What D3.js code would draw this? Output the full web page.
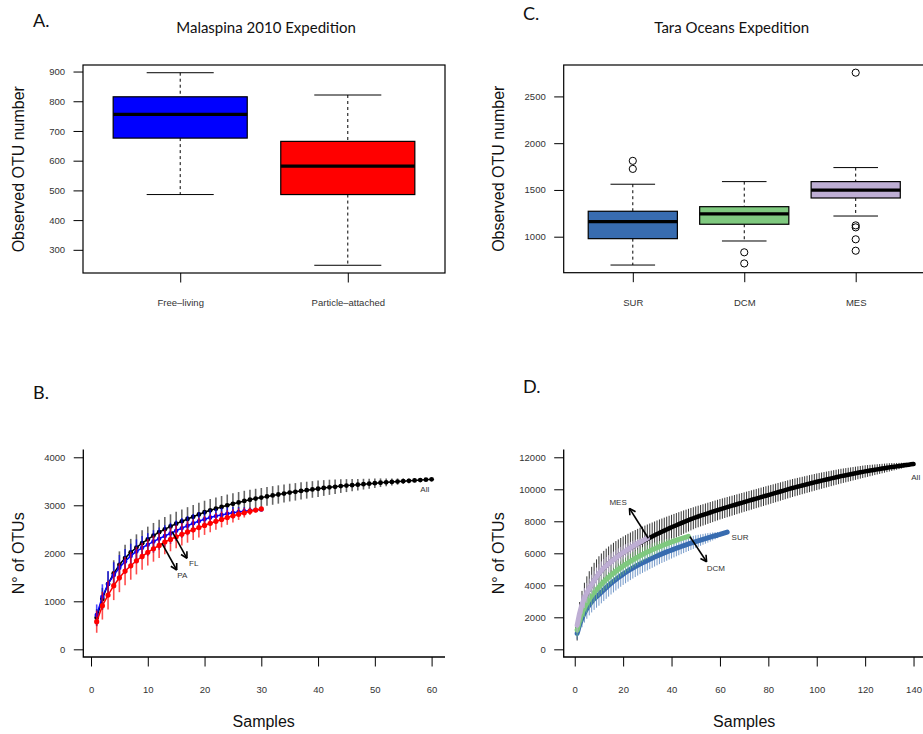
<!DOCTYPE html>
<html>
<head>
<meta charset="utf-8">
<script src="https://cdn.jsdelivr.net/npm/d3@7"></script>
<style>
body { margin: 0; background: #fff; }
svg { display: block; font-family: "Liberation Sans", Arial, sans-serif; }
.tick text { fill: #333; font-size: 9.5px; font-family: "Liberation Sans", Arial, sans-serif; }
.title { font-family: Lato, "Open Sans", sans-serif; font-size: 15px; fill: #111; }
.letter { font-family: Lato, "Open Sans", sans-serif; font-size: 18px; fill: #111; }
.axis-title { font-size: 16px; fill: #111; }
.note { font-size: 8px; fill: #333; }
</style>
</head>
<body>
<div id="chart"></div>
<script>
// A. Malaspina boxplot (whisker low, Q1, median, Q3, whisker high)
const malaspinaGroups = ["Free\u2013living", "Particle\u2013attached"];
const malaspinaLow = [486, 248];
const malaspinaQ1 = [676, 486];
const malaspinaMedian = [756, 582];
const malaspinaQ3 = [815, 665];
const malaspinaHigh = [896, 821];
const malaspinaTicks = [300, 400, 500, 600, 700, 800, 900];

// C. Tara boxplot
const taraGroups = ["SUR", "DCM", "MES"];
const taraLow = [697, 954, 1221];
const taraQ1 = [979, 1133, 1414];
const taraMedian = [1161, 1243, 1497];
const taraQ3 = [1272, 1321, 1589];
const taraHigh = [1561, 1589, 1739];
const taraOutliers = [[1811, 1725], [833, 714], [2754, 1121, 1100, 972, 850]];
const taraTicks = [1000, 1500, 2000, 2500];

// B. Malaspina rarefaction (mean and sd by number of samples)
const malAllMean = [660, 1050, 1360, 1580, 1760, 1900, 2020, 2120, 2210, 2290,
  2370, 2440, 2500, 2560, 2615, 2665, 2715, 2760, 2810, 2855,
  2895, 2930, 2965, 3000, 3030, 3060, 3090, 3115, 3140, 3160,
  3185, 3205, 3225, 3245, 3265, 3280, 3300, 3315, 3330, 3345,
  3360, 3375, 3385, 3400, 3410, 3420, 3430, 3440, 3450, 3460,
  3470, 3478, 3486, 3494, 3502, 3510, 3518, 3526, 3534, 3540];
const malAllSd = [180, 230, 260, 275, 280, 280, 280, 275, 270, 265,
  262, 258, 255, 252, 250, 248, 246, 244, 242, 240,
  236, 232, 228, 224, 220, 216, 212, 208, 204, 200,
  197, 194, 191, 188, 185, 182, 179, 176, 173, 170,
  164, 158, 150, 143, 135, 127, 120, 112, 105, 98,
  90, 82, 74, 66, 58, 50, 40, 30, 18, 0];
const malFlMean = [715, 1095, 1360, 1545, 1700, 1830, 1945, 2040, 2115, 2180,
  2245, 2305, 2360, 2415, 2470, 2525, 2575, 2625, 2670, 2710,
  2745, 2775, 2800, 2825, 2845, 2862, 2877, 2890, 2900, 2910];
const malFlSd = [220, 260, 270, 270, 265, 260, 255, 250, 245, 240,
  235, 230, 225, 220, 215, 208, 200, 192, 184, 175,
  165, 155, 145, 132, 118, 102, 85, 65, 40, 0];
const malPaMean = [575, 910, 1130, 1325, 1490, 1630, 1740, 1845, 1935, 2020,
  2095, 2165, 2235, 2290, 2345, 2395, 2445, 2490, 2535, 2580,
  2625, 2665, 2705, 2745, 2780, 2815, 2845, 2875, 2900, 2925];
const malPaSd = [230, 290, 300, 300, 300, 295, 290, 285, 280, 275,
  270, 262, 255, 248, 240, 232, 224, 215, 206, 197,
  187, 177, 165, 152, 138, 120, 100, 75, 45, 0];
const malXTicks = [0, 10, 20, 30, 40, 50, 60];
const malYTicks = [0, 1000, 2000, 3000, 4000];

// D. Tara rarefaction
const taraAllMean = [1250, 2050, 2650, 3100, 3470, 3780, 4050, 4300, 4520, 4720,
  4900, 5070, 5220, 5360, 5490, 5610, 5725, 5835, 5940, 6040,
  6135, 6230, 6320, 6410, 6495, 6580, 6660, 6740, 6820, 6900,
  6975, 7050, 7125, 7200, 7275, 7345, 7415, 7485, 7555, 7625,
  7690, 7755, 7820, 7885, 7950, 8010, 8070, 8130, 8190, 8250,
  8300, 8350, 8400, 8450, 8500, 8550, 8600, 8650, 8700, 8750,
  8795, 8840, 8885, 8930, 8975, 9020, 9065, 9110, 9155, 9200,
  9244, 9288, 9332, 9376, 9420, 9464, 9508, 9552, 9596, 9640,
  9684, 9728, 9772, 9816, 9860, 9904, 9948, 9992, 10036, 10080,
  10119, 10158, 10197, 10236, 10275, 10314, 10353, 10392, 10431, 10470,
  10505, 10540, 10575, 10610, 10645, 10680, 10715, 10750, 10785, 10820,
  10850, 10880, 10910, 10940, 10970, 11000, 11030, 11060, 11090, 11120,
  11145, 11170, 11195, 11220, 11245, 11270, 11295, 11320, 11345, 11370,
  11391, 11412, 11433, 11454, 11475, 11496, 11517, 11538, 11559, 11580];
const taraAllSd = [700, 900, 1000, 1060, 1090, 1100, 1105, 1105, 1100, 1095,
  1088, 1080, 1072, 1064, 1055, 1046, 1037, 1028, 1018, 1008,
  998, 988, 978, 968, 957, 946, 935, 924, 912, 900,
  888, 876, 864, 852, 840, 828, 816, 804, 792, 780,
  770, 760, 750, 740, 730, 720, 710, 700, 690, 680,
  676, 672, 668, 664, 660, 656, 652, 648, 644, 640,
  637, 634, 631, 628, 625, 622, 619, 616, 613, 610,
  608, 606, 604, 602, 600, 598, 596, 594, 592, 590,
  587, 584, 581, 578, 575, 572, 569, 566, 563, 560,
  556, 552, 548, 544, 540, 536, 532, 528, 524, 520,
  514, 508, 502, 496, 490, 484, 478, 472, 466, 460,
  452, 444, 436, 428, 420, 412, 404, 396, 388, 380,
  368, 356, 344, 332, 320, 308, 296, 284, 272, 260,
  244, 228, 212, 196, 180, 160, 135, 100, 60, 0];
const taraSurMean = [1000, 1550, 1950, 2280, 2550, 2780, 2980, 3150, 3290, 3420,
  3570, 3715, 3855, 3990, 4120, 4245, 4365, 4480, 4590, 4700,
  4800, 4895, 4990, 5080, 5170, 5255, 5335, 5410, 5480, 5550,
  5625, 5695, 5765, 5835, 5900, 5965, 6025, 6085, 6145, 6200,
  6258, 6315, 6370, 6425, 6478, 6530, 6582, 6632, 6682, 6730,
  6778, 6825, 6872, 6918, 6963, 7008, 7052, 7095, 7138, 7180,
  7230, 7280, 7330];
const taraSurSd = [380, 500, 570, 610, 640, 660, 675, 685, 690, 695,
  697, 698, 698, 697, 695, 692, 689, 686, 682, 678,
  674, 669, 664, 659, 653, 647, 641, 634, 627, 620,
  612, 604, 596, 587, 578, 569, 559, 549, 538, 527,
  516, 504, 492, 479, 466, 452, 438, 423, 408, 392,
  375, 357, 338, 318, 297, 274, 249, 222, 192, 157,
  115, 65, 0];
const taraDcmMean = [1200, 1800, 2250, 2600, 2880, 3130, 3350, 3550, 3730, 3900,
  4065, 4220, 4365, 4500, 4630, 4755, 4875, 4990, 5100, 5205,
  5305, 5400, 5495, 5585, 5675, 5760, 5845, 5925, 6005, 6080,
  6150, 6220, 6285, 6350, 6415, 6475, 6535, 6595, 6650, 6705,
  6760, 6815, 6865, 6915, 6965, 7010, 7055];
const taraDcmSd = [400, 500, 560, 590, 605, 610, 610, 608, 605, 600,
  595, 590, 584, 578, 572, 565, 558, 550, 542, 534,
  525, 516, 507, 497, 487, 476, 465, 453, 441, 428,
  414, 400, 385, 369, 352, 334, 315, 295, 273, 250,
  225, 198, 168, 135, 98, 55, 0];
const taraMesMean = [1500, 2250, 2800, 3200, 3520, 3800, 4050, 4290, 4520, 4740,
  4920, 5080, 5220, 5350, 5475, 5600, 5720, 5835, 5945, 6050,
  6150, 6248, 6343, 6435, 6525, 6612, 6697, 6780, 6860, 6935];
const taraMesSd = [450, 550, 600, 620, 620, 615, 610, 600, 590, 580,
  570, 560, 548, 535, 520, 505, 490, 472, 455, 435,
  415, 392, 368, 342, 312, 280, 240, 190, 120, 0];
const taraXTicks = [0, 20, 40, 60, 80, 100, 120, 140];
const taraYTicks = [0, 2000, 4000, 6000, 8000, 10000, 12000];

const svg = d3.select("#chart").append("svg")
  .attr("width", 923)
  .attr("height", 734);
svg.append("rect").attr("width", 923).attr("height", 734).attr("fill", "#fff");

const plain = d3.format("d");

function arrow(g, x1, y1, x2, y2) {
  g.append("line").attr("x1", x1).attr("y1", y1).attr("x2", x2).attr("y2", y2)
    .attr("stroke", "#000").attr("stroke-width", 1.6);
  var ang = Math.atan2(y2 - y1, x2 - x1);
  [-0.5, 0.5].forEach(function (da) {
    var a = ang + Math.PI + da;
    g.append("line").attr("x1", x2).attr("y1", y2)
      .attr("x2", x2 + 7 * Math.cos(a)).attr("y2", y2 + 7 * Math.sin(a))
      .attr("stroke", "#000").attr("stroke-width", 1.6);
  });
}

function boxPanel(opt) {
  const g = svg.append("g");
  const x = opt.x, y = opt.y;
  const [x0, x1] = x.range();
  const [yb, yt] = y.range();

  // y axis
  g.append("g")
    .attr("transform", `translate(${x0},0)`)
    .call(d3.axisLeft(y).tickValues(opt.ticks).tickFormat(plain).tickSize(9.5).tickPadding(8.5))
    .call(s => s.select(".domain").remove());
  // x axis
  g.append("g")
    .attr("transform", `translate(0,${yb})`)
    .call(d3.axisBottom(x).tickValues(opt.groups.map((d, i) => i + 1))
      .tickFormat((d, i) => opt.groups[i]).tickSize(9.5).tickPadding(16.8))
    .call(s => s.select(".domain").remove());

  const bw = (x(2) - x(1)) * 0.8;
  opt.groups.forEach(function (name, i) {
    const cx = x(i + 1);
    g.append("line").attr("x1", cx).attr("x2", cx)
      .attr("y1", y(opt.high[i])).attr("y2", y(opt.q3[i]))
      .attr("stroke", "#000").attr("stroke-dasharray", "3,3");
    g.append("line").attr("x1", cx).attr("x2", cx)
      .attr("y1", y(opt.q1[i])).attr("y2", y(opt.low[i]))
      .attr("stroke", "#000").attr("stroke-dasharray", "3,3");
    [opt.high[i], opt.low[i]].forEach(function (v) {
      g.append("line").attr("x1", cx - bw / 4).attr("x2", cx + bw / 4)
        .attr("y1", y(v)).attr("y2", y(v)).attr("stroke", "#000");
    });
    g.append("rect")
      .attr("x", cx - bw / 2).attr("width", bw)
      .attr("y", y(opt.q3[i])).attr("height", y(opt.q1[i]) - y(opt.q3[i]))
      .attr("fill", opt.colors[i]).attr("stroke", "#000").attr("stroke-width", 1.2);
    g.append("line").attr("x1", cx - bw / 2).attr("x2", cx + bw / 2)
      .attr("y1", y(opt.median[i])).attr("y2", y(opt.median[i]))
      .attr("stroke", "#000").attr("stroke-width", 3.2);
    (opt.outliers ? opt.outliers[i] : []).forEach(function (v) {
      g.append("circle").attr("cx", cx).attr("cy", y(v)).attr("r", 3.6)
        .attr("fill", "none").attr("stroke", "#000").attr("stroke-width", 1);
    });
  });

  g.append("rect").attr("x", x0).attr("y", yt)
    .attr("width", x1 - x0).attr("height", yb - yt)
    .attr("fill", "none").attr("stroke", "#000").attr("stroke-width", 1.2);
  return g;
}

function curvePanel(opt) {
  const g = svg.append("g");
  const x = opt.x, y = opt.y;
  const [x0, x1] = x.range();
  const [yb, yt] = y.range();

  g.append("g")
    .attr("transform", `translate(${x0},0)`)
    .call(d3.axisLeft(y).tickValues(opt.yTicks).tickFormat(plain).tickSize(9.5).tickPadding(8.5))
    .call(s => s.select(".domain").remove());
  g.append("g")
    .attr("transform", `translate(0,${yb})`)
    .call(d3.axisBottom(x).tickValues(opt.xTicks).tickFormat(plain).tickSize(9.5).tickPadding(19.3))
    .call(s => s.select(".domain").remove());
  g.append("path")
    .attr("d", `M${x0},${yt}V${yb}H${x1}`)
    .attr("fill", "none").attr("stroke", "#000").attr("stroke-width", 1.3);

  opt.series.forEach(function (s) {
    const bars = g.append("g");
    s.mean.forEach(function (m, i) {
      bars.append("line")
        .attr("x1", x(i + 1)).attr("x2", x(i + 1))
        .attr("y1", y(m - s.sd[i])).attr("y2", y(m + s.sd[i]))
        .attr("stroke", s.barColor).attr("stroke-width", s.barWidth)
        .attr("stroke-opacity", s.barOpacity);
    });
    const line = d3.line().x((d, i) => x(i + 1)).y(d => y(d));
    g.append("path").datum(s.mean).attr("d", line)
      .attr("fill", "none").attr("stroke", s.color).attr("stroke-width", s.lineWidth)
      .attr("stroke-linejoin", "round").attr("stroke-linecap", "round");
    g.selectAll(null).data(s.mean).join("circle")
      .attr("cx", (d, i) => x(i + 1)).attr("cy", d => y(d))
      .attr("r", s.r).attr("fill", s.color);
  });
  return g;
}

// ---- A
const xA = d3.scaleLinear().domain([0.42, 2.58]).range([83, 445]);
const yA = d3.scaleLinear().domain([222, 922]).range([273, 65]);
boxPanel({
  x: xA, y: yA, ticks: malaspinaTicks, groups: malaspinaGroups,
  low: malaspinaLow, q1: malaspinaQ1, median: malaspinaMedian, q3: malaspinaQ3, high: malaspinaHigh,
  colors: ["#0000ff", "#ff0000"]
});

// ---- C
const xC = d3.scaleLinear().domain([0.38, 3.62]).range([563.7, 924.8]);
const yC = d3.scaleLinear().domain([615, 2836]).range([272.7, 65]);
boxPanel({
  x: xC, y: yC, ticks: taraTicks, groups: taraGroups,
  low: taraLow, q1: taraQ1, median: taraMedian, q3: taraQ3, high: taraHigh,
  outliers: taraOutliers,
  colors: ["#386cb0", "#7fc97f", "#beaed4"]
});

// ---- B
const xB = d3.scaleLinear().domain([-1.36, 62.36]).range([83.3, 445]);
const yB = d3.scaleLinear().domain([-160, 4160]).range([657, 449.6]);
const gB = curvePanel({
  x: xB, y: yB, xTicks: malXTicks, yTicks: malYTicks,
  series: [
    { mean: malAllMean, sd: malAllSd, color: "#000", barColor: "#333", barWidth: 1.6, barOpacity: 0.75, lineWidth: 1.5, r: 2.4 },
    { mean: malFlMean, sd: malFlSd, color: "#0000ff", barColor: "#0000ff", barWidth: 1.6, barOpacity: 0.7, lineWidth: 1.5, r: 2.2 },
    { mean: malPaMean, sd: malPaSd, color: "#ff0000", barColor: "#ff0000", barWidth: 1.6, barOpacity: 0.7, lineWidth: 1.5, r: 2.6 }
  ]
});
arrow(gB, xB(14.3), yB(2450), xB(16.9), yB(1896));
arrow(gB, xB(12.5), yB(2208), xB(15.1), yB(1652));
gB.append("text").attr("class", "note").attr("x", xB(18.1)).attr("y", yB(1735)).attr("text-anchor", "middle").text("FL");
gB.append("text").attr("class", "note").attr("x", xB(16.1)).attr("y", yB(1492)).attr("text-anchor", "middle").text("PA");
gB.append("text").attr("class", "note").attr("x", xB(58.8)).attr("y", yB(3283)).attr("text-anchor", "middle").text("All");

// ---- D
const xD = d3.scaleLinear().domain([-4.56, 145.56]).range([563.7, 927]);
const yD = d3.scaleLinear().domain([-480, 12480]).range([657, 449.6]);
const gD = curvePanel({
  x: xD, y: yD, xTicks: taraXTicks, yTicks: taraYTicks,
  series: [
    { mean: taraAllMean, sd: taraAllSd, color: "#000", barColor: "#111", barWidth: 1, barOpacity: 0.85, lineWidth: 4.5, r: 1.5 },
    { mean: taraSurMean, sd: taraSurSd, color: "#386cb0", barColor: "#386cb0", barWidth: 1, barOpacity: 0.7, lineWidth: 5, r: 1.5 },
    { mean: taraDcmMean, sd: taraDcmSd, color: "#7fc97f", barColor: "#7fc97f", barWidth: 1, barOpacity: 0.7, lineWidth: 5, r: 1.5 },
    { mean: taraMesMean, sd: taraMesSd, color: "#beaed4", barColor: "#beaed4", barWidth: 1, barOpacity: 0.8, lineWidth: 5, r: 1.5 }
  ]
});
arrow(gD, xD(30.4), yD(6940), xD(22.6), yD(8810));
arrow(gD, xD(47.6), yD(7040), xD(54.5), yD(5475));
gD.append("text").attr("class", "note").attr("x", xD(17.9)).attr("y", yD(9020)).attr("text-anchor", "middle").text("MES");
gD.append("text").attr("class", "note").attr("x", xD(58.3)).attr("y", yD(4910)).attr("text-anchor", "middle").text("DCM");
gD.append("text").attr("class", "note").attr("x", xD(64.8)).attr("y", yD(6830)).text("SUR");
gD.append("text").attr("class", "note").attr("x", xD(140.9)).attr("y", yD(10580)).attr("text-anchor", "middle").text("All");

// ---- titles, letters, axis titles
svg.append("text").attr("class", "title").attr("x", 266).attr("y", 32.5).attr("text-anchor", "middle").text("Malaspina 2010 Expedition");
svg.append("text").attr("class", "title").attr("x", 731.7).attr("y", 32.5).attr("text-anchor", "middle").text("Tara Oceans Expedition");
svg.append("text").attr("class", "letter").attr("x", 33).attr("y", 26.7).text("A.");
svg.append("text").attr("class", "letter").attr("x", 523).attr("y", 20).text("C.");
svg.append("text").attr("class", "letter").attr("x", 33).attr("y", 399).text("B.");
svg.append("text").attr("class", "letter").attr("x", 523).attr("y", 392.7).text("D.");

function yTitle(x, y, label) {
  svg.append("text").attr("class", "axis-title")
    .attr("transform", `translate(${x},${y}) rotate(-90)`)
    .attr("text-anchor", "middle").text(label);
}
yTitle(24, 169.2, "Observed OTU number");
yTitle(504, 168.7, "Observed OTU number");
yTitle(23.5, 553.3, "N\u00b0 of OTUs");
yTitle(504, 553.3, "N\u00b0 of OTUs");
svg.append("text").attr("class", "axis-title").attr("x", 263.7).attr("y", 727).attr("text-anchor", "middle").text("Samples");
svg.append("text").attr("class", "axis-title").attr("x", 744.2).attr("y", 727).attr("text-anchor", "middle").text("Samples");
</script>
</body>
</html>
